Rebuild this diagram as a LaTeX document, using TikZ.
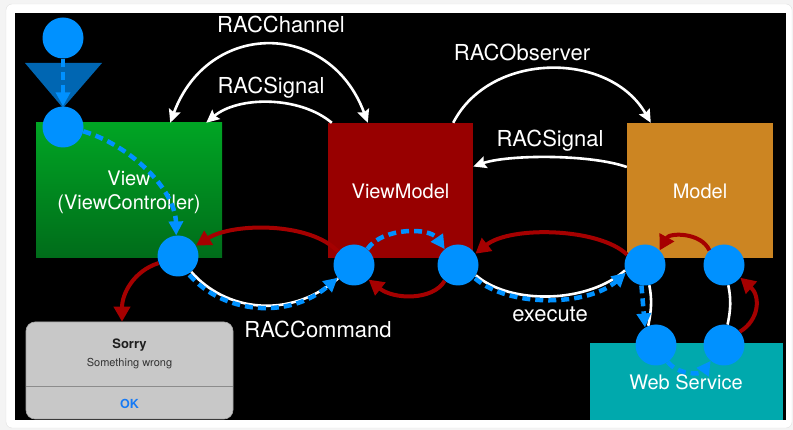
\documentclass[tikz,border=0pt]{standalone}
\usepackage{fontspec}
\setmainfont{TeX Gyre Heros}
\usetikzlibrary{arrows.meta,calc}
\definecolor{outerbg}{RGB}{244,244,244}
\definecolor{cblue}{RGB}{0,145,255}
\definecolor{tri}{RGB}{0,102,178}
\definecolor{dred}{RGB}{165,0,0}
\definecolor{vmred}{RGB}{152,0,0}
\definecolor{morange}{RGB}{204,133,34}
\definecolor{wteal}{RGB}{0,169,173}
\definecolor{gtop}{RGB}{0,165,36}
\definecolor{gbot}{RGB}{0,108,26}
\definecolor{alertbg}{RGB}{200,200,200}
\definecolor{okblue}{RGB}{22,122,245}
\tikzset{
  box/.style={rectangle, inner sep=0pt},
  dot/.style={circle, fill=cblue, minimum size=41pt, inner sep=0pt},
  lbl/.style={text=white, font=\fontsize{22}{26}\selectfont, inner sep=0pt, anchor=base},
  btxt/.style={text=white, font=\fontsize{20}{24}\selectfont, inner sep=0pt, anchor=base},
  wline/.style={white, line width=2.6pt},
  warrow/.style={wline, -{Stealth[length=13pt,width=12pt,inset=2pt]}},
  bdash/.style={cblue, line width=4.5pt, dash pattern=on 8pt off 5pt, -{Triangle[length=14pt,width=14pt]}},
  rarrow/.style={dred, line width=4pt, -{Triangle[length=15pt,width=16pt]}},
}
\begin{document}
\begin{tikzpicture}[x=1pt,y=-1pt]
\useasboundingbox (0,0) rectangle (793,430);
\fill[outerbg] (0,0) rectangle (793,430);
\filldraw[fill=white, draw=black!12, rounded corners=6pt] (6,4) rectangle (792,428);
\fill[black] (15,13) rectangle (786,420);

% boxes
\node[box, minimum width=186pt, minimum height=135pt, top color=gtop, bottom color=gbot] (view) at (129,190.5) {};
\node[box, minimum width=145pt, minimum height=135pt, fill=vmred] (vm) at (400.5,190.5) {};
\node[box, minimum width=146pt, minimum height=135pt, fill=morange] (model) at (700,190.5) {};
\node[box, minimum width=193pt, minimum height=77pt, fill=wteal] (web) at (686.5,381.5) {};
\node[box, minimum width=207pt, minimum height=97pt, fill=alertbg, draw=black!35, line width=0.6pt, rounded corners=9pt] (alert) at (129.5,370.5) {};
\draw[black!45, line width=0.8pt] ($(alert.west)+(0,15.5)$) coordinate (dl) -- ($(alert.east)+(0,15.5)$) coordinate (dr);

% box texts
\node[btxt] (tview1) at (129,186) {View};
\node[btxt] (tview2) at (129,210) {(ViewController)};
\node[btxt] (tvm) at (400.5,199) {ViewModel};
\node[btxt] (tmodel) at (700,199) {Model};
\node[btxt] (tweb) at (686,390) {Web Service};
\node[inner sep=0pt, anchor=base, font=\bfseries\fontsize{13}{15}\selectfont, text=black!88] (tsorry) at (129.5,349) {Sorry};
\node[inner sep=0pt, anchor=base, font=\fontsize{11}{13}\selectfont, text=black!80] (twrong) at (129.5,367) {Something wrong};
\node[inner sep=0pt, anchor=base, font=\bfseries\fontsize{12.5}{15}\selectfont, text=okblue] (tok) at (129.5,409) {OK};

% labels
\node[lbl] (lchannel) at (281,33) {RACChannel};
\node[lbl] (lsig1) at (271,94) {RACSignal};
\node[lbl] (lobs) at (522,61) {RACObserver};
\node[lbl] (lsig2) at (550,147) {RACSignal};
\node[lbl] (lcmd) at (318,338) {RACCommand};
\node[lbl] (lexec) at (550,322) {execute};

% triangle
\fill[tri] (25,63) -- (102,63) -- (63,108) -- cycle;

% circles
\node[dot] (c1) at (63,38) {};
\node[dot] (c2) at (63,127) {};
\node[dot] (c3) at (178,256) {};
\node[dot] (c4) at (354,265) {};
\node[dot] (c5) at (458,265) {};
\node[dot] (c6) at (645,265) {};
\node[dot] (c7) at (724,265) {};
\node[dot] (c8) at (656,345) {};
\node[dot] (c9) at (724,345) {};

% white arcs between boxes
\draw[wline, {Stealth[length=13pt,width=12pt,inset=2pt]}-{Stealth[length=13pt,width=12pt,inset=2pt]}]
  ([xshift=40pt]vm.north west) .. controls +(-38,-103) and +(38,-103) .. ([xshift=-52pt]view.north east);
\draw[warrow] ([xshift=4pt]vm.north west) .. controls +(-32,-27) and +(32,-27) .. ([xshift=-16pt]view.north east);
\draw[warrow] ([xshift=-20pt]vm.north east) .. controls +(37,-72) and +(-41,-72) .. ([xshift=24pt]model.north west);
\draw[warrow] ([yshift=23.5pt]model.west) .. controls +(-37,-13) and +(35,-12) .. ([yshift=24pt]vm.east);

% white lines under dashed
\draw[wline] (c3.-50) .. controls +(34,39) and +(-49,42) .. (c4.220);
\draw[wline] (c5.-30) .. controls +(35,30) and +(-37,33) .. (c6.195);
\draw[wline] (c6.-78) .. controls +(3,15) and +(3,-15) .. (c8.112);
\draw[wline] (c9.80) .. controls +(3,-14) and +(3,14) .. (c7.-78);

% blue dashed
\draw[bdash, line width=4pt] (c1.south) -- (c2.north);
\draw[bdash] (c2.-12) .. controls +(47,14) and +(-1,-46) .. (c3.95);
\draw[bdash] ($(c3.-50)+(-2,3)$) .. controls +(34,39) and +(-49,42) .. (c4.218);
\draw[bdash] (c4.50) .. controls +(15,-22) and +(-15,-22) .. (c5.130);
\draw[bdash] ($(c5.-30)+(-1,3)$) .. controls +(35,30) and +(-37,33) .. (c6.202);
\draw[bdash] (c6.-100) -- (c8.122);
\draw[bdash] (c8.-55) .. controls +(10,13) and +(-10,14) .. (c9.230);

% red arrows
\draw[rarrow] (c4.140) .. controls +(-28,-30) and +(37,-23) .. (c3.30);
\draw[rarrow] (c3.200) .. controls +(-25,8) and +(0,-28) .. ([xshift=-7.5pt]alert.north);
\draw[rarrow] (c5.230) .. controls +(-12,20) and +(25,20) .. (c4.-45);
\draw[rarrow] (c6.150) .. controls +(-28,-27) and +(35,-28) .. (c5.33);
\draw[rarrow] (c9.40) .. controls +(20,-12) and +(20,18) .. (c7.-38);
\draw[rarrow] (c7.135) .. controls +(-8,-18) and +(10,-18) .. (c6.45);
\end{tikzpicture}
\end{document}
